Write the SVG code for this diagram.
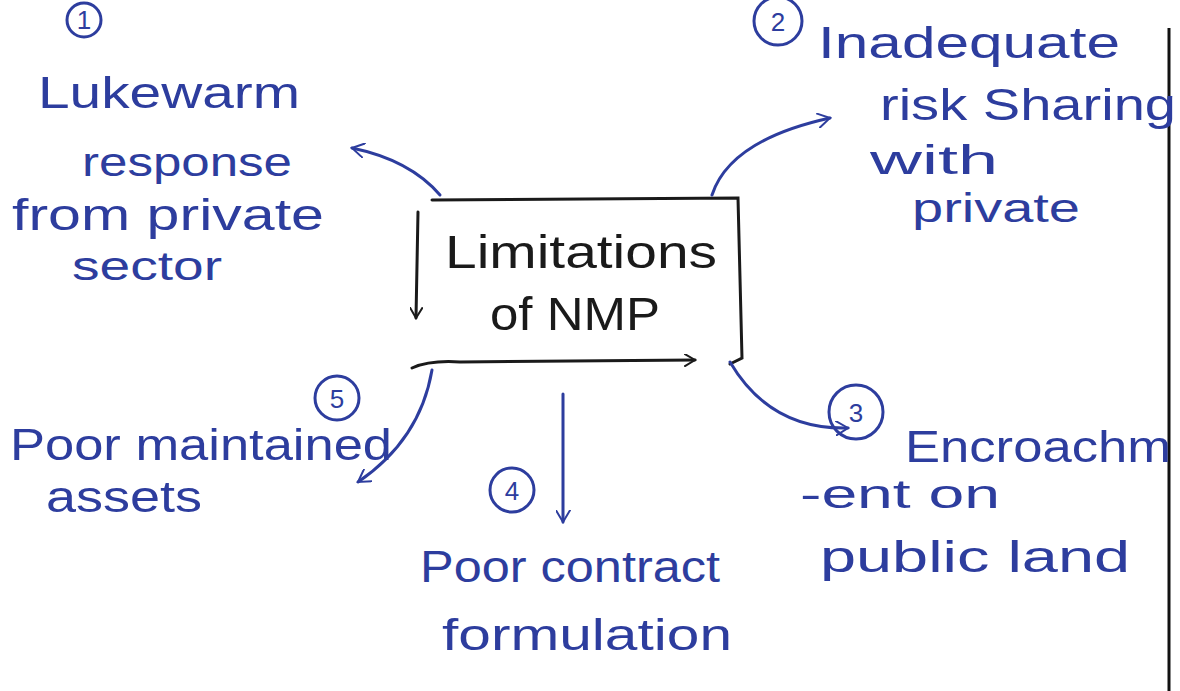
<svg xmlns="http://www.w3.org/2000/svg" width="1180" height="691" viewBox="0 0 1180 691">
<defs>
<style>
.ink{fill:#2d3d9e;font-family:"Liberation Sans",Arial,sans-serif;font-size:44px}
.sm{font-size:40px}
.blk{fill:#1a1a1a;font-family:"Liberation Sans",Arial,sans-serif;font-size:46px}
.num{fill:#2d3d9e;font-family:"Liberation Sans",Arial,sans-serif;font-size:26px;text-anchor:middle}
.ln{fill:none;stroke:#2d3d9e;stroke-width:3;stroke-linecap:round}
.circ{fill:none;stroke:#2d3d9e;stroke-width:3}
.box{fill:none;stroke:#1a1a1a;stroke-width:3;stroke-linecap:round}
</style>
<marker id="ah" viewBox="0 0 12 12" refX="10" refY="6" markerWidth="15" markerHeight="15" orient="auto" markerUnits="userSpaceOnUse">
<path d="M0,0 L10,6 L0,12" fill="none" stroke="#2d3d9e" stroke-width="1.6"/>
</marker>
<marker id="ahk" viewBox="0 0 12 12" refX="10" refY="6" markerWidth="13" markerHeight="13" orient="auto" markerUnits="userSpaceOnUse">
<path d="M0,0 L10,6 L0,12" fill="none" stroke="#1a1a1a" stroke-width="1.8"/>
</marker>
</defs>
<rect width="1180" height="691" fill="#ffffff"/>
<line x1="1169" y1="28" x2="1169" y2="691" stroke="#111" stroke-width="3"/>

<g id="center">
<path class="box" d="M432,200 L738,198 L742,358 L730,364"/>
<path class="box" d="M418,212 L416,318" marker-end="url(#ahk)"/>
<path class="box" d="M412,368 Q430,360 460,362 L695,360" marker-end="url(#ahk)"/>
<text class="blk" x="445" y="268" textLength="272" lengthAdjust="spacingAndGlyphs">Limitations</text>
<text class="blk" x="490" y="330" textLength="170" lengthAdjust="spacingAndGlyphs">of NMP</text>
</g>

<g id="n1">
<circle class="circ" cx="84" cy="20" r="17"/>
<text class="num" x="84" y="29">1</text>
<text class="ink" x="38" y="108" textLength="262" lengthAdjust="spacingAndGlyphs">Lukewarm</text>
<text class="ink sm" x="82" y="176" textLength="210" lengthAdjust="spacingAndGlyphs">response</text>
<text class="ink" x="12" y="230" textLength="312" lengthAdjust="spacingAndGlyphs">from private</text>
<text class="ink sm" x="72" y="280" textLength="150" lengthAdjust="spacingAndGlyphs">sector</text>
</g>

<g id="n2">
<circle class="circ" cx="778" cy="21" r="24"/>
<text class="num" x="778" y="31">2</text>
<text class="ink" x="818" y="58" textLength="302" lengthAdjust="spacingAndGlyphs">Inadequate</text>
<text class="ink" x="880" y="120" textLength="296" lengthAdjust="spacingAndGlyphs">risk Sharing</text>
<text class="ink sm" x="870" y="174" textLength="128" lengthAdjust="spacingAndGlyphs">with</text>
<text class="ink sm" x="912" y="222" textLength="168" lengthAdjust="spacingAndGlyphs">private</text>
</g>

<g id="n3">
<circle class="circ" cx="856" cy="412" r="27"/>
<text class="num" x="856" y="422">3</text>
<text class="ink" x="905" y="462" textLength="266" lengthAdjust="spacingAndGlyphs">Encroachm</text>
<text class="ink sm" x="800" y="508" textLength="200" lengthAdjust="spacingAndGlyphs">-ent on</text>
<text class="ink" x="820" y="572" textLength="310" lengthAdjust="spacingAndGlyphs">public land</text>
</g>

<g id="n4">
<circle class="circ" cx="512" cy="490" r="22"/>
<text class="num" x="512" y="500">4</text>
<text class="ink" x="420" y="582" textLength="300" lengthAdjust="spacingAndGlyphs">Poor contract</text>
<text class="ink" x="442" y="650" textLength="290" lengthAdjust="spacingAndGlyphs">formulation</text>
</g>

<g id="n5">
<circle class="circ" cx="337" cy="398" r="22"/>
<text class="num" x="337" y="408">5</text>
<text class="ink" x="10" y="460" textLength="382" lengthAdjust="spacingAndGlyphs">Poor maintained</text>
<text class="ink" x="46" y="512" textLength="156" lengthAdjust="spacingAndGlyphs">assets</text>
</g>

<g id="connectors">
<path class="ln" d="M440,195 Q410,160 352,148" marker-end="url(#ah)"/>
<path class="ln" d="M712,195 Q730,140 830,118" marker-end="url(#ah)"/>
<path class="ln" d="M432,370 Q420,440 358,482" marker-end="url(#ah)"/>
<path class="ln" d="M563,394 L563,522" marker-end="url(#ah)"/>
<path class="ln" d="M730,362 Q770,430 848,428" marker-end="url(#ah)"/>
</g>
</svg>
